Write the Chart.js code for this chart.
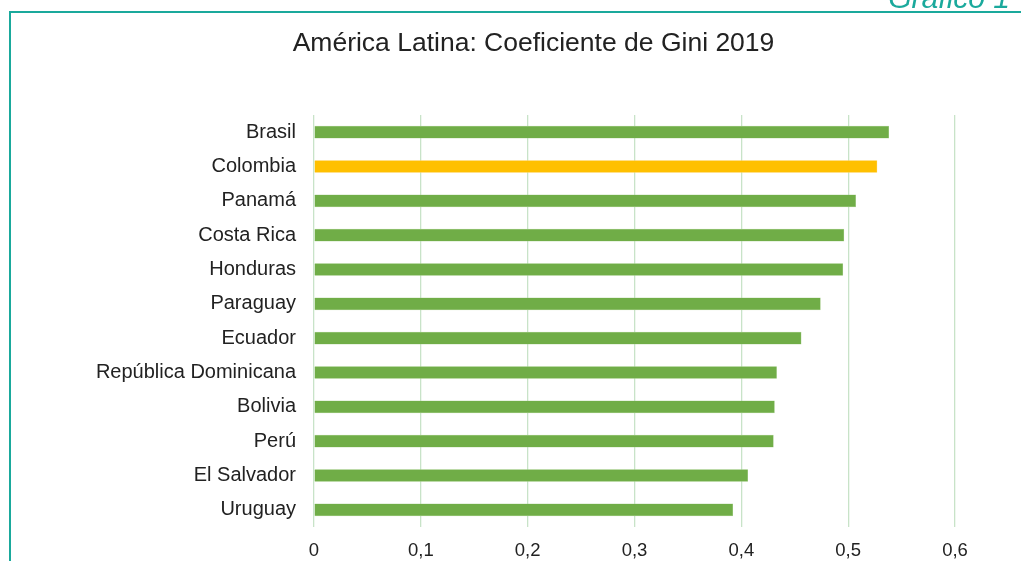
<!DOCTYPE html>
<html><head><meta charset="utf-8">
<script src="https://cdn.jsdelivr.net/npm/chart.js@4/dist/chart.umd.min.js"></script>
<style>
html,body{margin:0;padding:0;background:#fff;overflow:hidden}
#wrap{position:relative;width:1021px;height:561px}
#frameTop{position:absolute;left:9px;top:11px;width:1012px;height:0;border-top:2px solid #1aa99c}
#frameLeft{position:absolute;left:9px;top:11px;width:0;height:550px;border-left:2px solid #1aa99c}
#tag{position:absolute;right:11px;top:-17px;font:italic 30px "Liberation Sans",Arial,sans-serif;color:#1aa99c;line-height:1}
#title{position:absolute;left:0;width:1067px;top:27px;text-align:center;font:26.5px "Liberation Sans",Arial,sans-serif;color:#222}
canvas{position:absolute;left:0;top:0}
</style></head><body>
<div id="wrap">
<canvas id="c" width="1021" height="561"></canvas>
<div id="frameTop"></div><div id="frameLeft"></div>
<div id="tag">Gráfico 1</div>
<div id="title">América Latina: Coeficiente de Gini 2019</div>
</div>
<script>
const categories = ["Brasil","Colombia","Panamá","Costa Rica","Honduras","Paraguay","Ecuador","República Dominicana","Bolivia","Perú","El Salvador","Uruguay"];
const giniValues = [0.538,0.527,0.507,0.496,0.495,0.474,0.456,0.433,0.431,0.430,0.406,0.392];
const highlight = "Colombia";
const xTicks = [0,0.1,0.2,0.3,0.4,0.5,0.6];

const barColors = categories.map(c => c === highlight ? "#ffc000" : "#70ad47");

new Chart(document.getElementById("c"), {
  type: "bar",
  data: {
    labels: categories,
    datasets: [{
      data: giniValues,
      backgroundColor: barColors,
      borderColor: categories.map(c => c === highlight ? "#ffd66b" : "#a9cf8f"),
      borderWidth: 0.6,
      barThickness: 12
    }]
  },
  options: {
    indexAxis: "y",
    responsive: false,
    animation: false,
    layout: { padding: { left: 0, right: 66, top: 115, bottom: 0 } },
    plugins: { legend: { display: false }, title: { display: false }, tooltip: { enabled: false } },
    scales: {
      x: {
        min: 0, max: 0.6,
        afterBuildTicks: s => { s.ticks = xTicks.map(v => ({ value: v })); },
        afterFit: s => { s.height = 34; },
        grid: { color: "#c8e3c8", lineWidth: 1.3, drawTicks: false },
        border: { display: false },
        ticks: {
          padding: 13,
          color: "#222",
          font: { family: "'Liberation Sans', Arial, sans-serif", size: 18.5 },
          callback: v => String(Math.round(v * 10) / 10).replace(".", ",")
        }
      },
      y: {
        afterFit: s => { s.width = 314; },
        grid: { display: false, drawTicks: false },
        border: { display: false },
        ticks: {
          padding: 18,
          color: "#222",
          font: { family: "'Liberation Sans', Arial, sans-serif", size: 20 }
        }
      }
    }
  }
});
</script>
</body></html>
